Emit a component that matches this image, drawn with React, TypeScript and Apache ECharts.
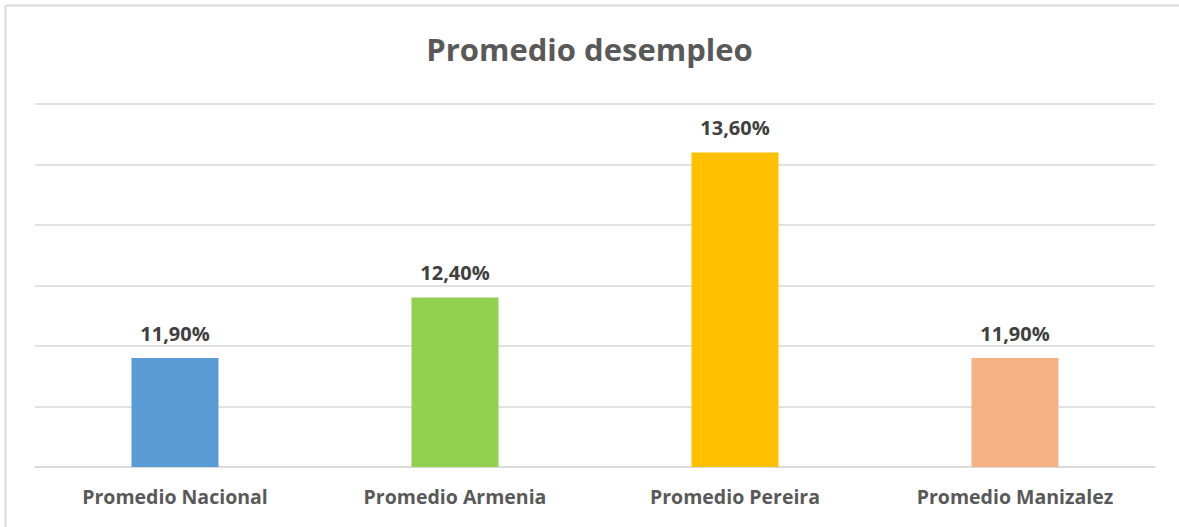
import React, { useEffect, useRef } from "react";
import * as echarts from "echarts";

const categories = ["Promedio Nacional", "Promedio Armenia", "Promedio Pereira", "Promedio Manizalez"];
const values = [0.119, 0.124, 0.136, 0.119];
const colors = ["#5B9BD5", "#92D050", "#FFC000", "#F4B183"];
const title = "Promedio desempleo";

export default function App() {
  const ref = useRef<HTMLDivElement>(null);
  useEffect(() => {
    const chart = echarts.init(ref.current!, null, { renderer: "svg" });
    chart.setOption({
      animation: false,
      backgroundColor: "#ffffff",
      title: {
        text: title,
        left: "center",
        top: 28,
        textStyle: { fontFamily: "Open Sans", fontWeight: "bold", fontSize: 31, color: "#595959" },
      },
      grid: { left: 35, right: 24, top: 104, bottom: 60, containLabel: false },
      xAxis: {
        type: "category",
        data: categories,
        axisLine: { show: true, lineStyle: { color: "#d9d9d9", width: 1.5 } },
        axisTick: { show: false },
        axisLabel: {
          fontFamily: "Open Sans",
          fontWeight: "bold",
          fontSize: 19.5,
          color: "#595959",
          margin: 19,
        },
      },
      yAxis: {
        type: "value",
        min: 0.11,
        max: 0.14,
        interval: 0.005,
        axisLabel: { show: false },
        axisLine: { show: false },
        axisTick: { show: false },
        splitLine: { lineStyle: { color: "#d9d9d9", width: 1.5 } },
      },
      series: [
        {
          type: "bar",
          barWidth: 87,
          data: values.map((v, i) => ({ value: v, itemStyle: { color: colors[i] } })),
          label: {
            show: true,
            position: "top",
            distance: 15,
            formatter: (p: any) => (p.value * 100).toFixed(2).replace(".", ",") + "%",
            fontFamily: "Open Sans",
            fontWeight: "bold",
            fontSize: 20,
            color: "#404040",
          },
        },
      ],
      graphic: [
        { type: "line", shape: { x1: 5.5, y1: 5.5, x2: 1179, y2: 5.5 }, style: { stroke: "#d9d9d9", lineWidth: 2 } },
        { type: "line", shape: { x1: 5.5, y1: 5.5, x2: 5.5, y2: 527 }, style: { stroke: "#d9d9d9", lineWidth: 2 } },
      ],
    });
    return () => chart.dispose();
  }, []);
  return <div ref={ref} style={{ position: "fixed", left: 0, top: 0, width: 1179, height: 527 }} />;
}
